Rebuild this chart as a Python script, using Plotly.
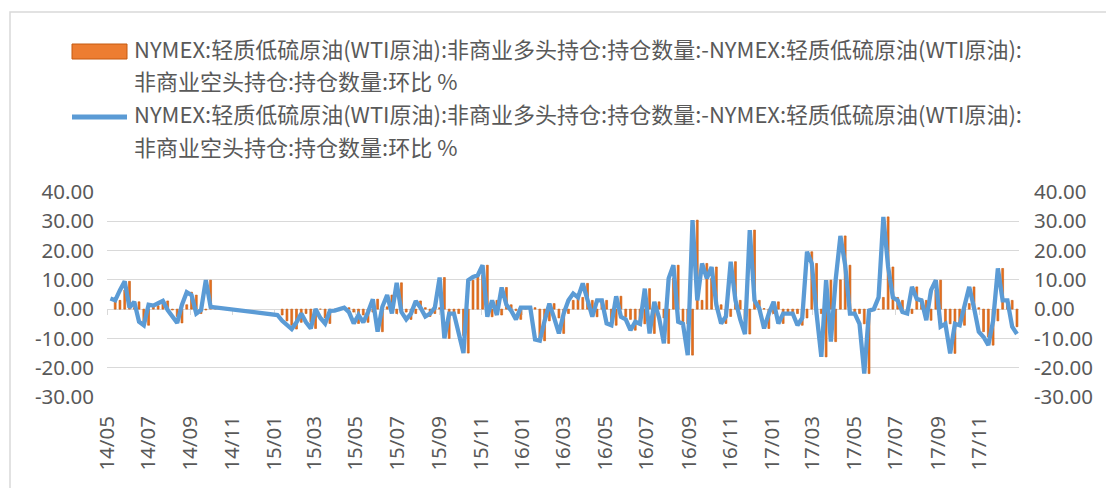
import pandas as pd
import plotly.graph_objects as go

# ---------------- data ----------------
series_name_line1 = "NYMEX:轻质低硫原油(WTI原油):非商业多头持仓:持仓数量:-NYMEX:轻质低硫原油(WTI原油):"
series_name_line2 = "非商业空头持仓:持仓数量:环比 %"

dates_2014 = pd.date_range("2014-05-06", periods=22, freq="7D")
dates_2015_2017 = pd.date_range("2015-01-06", periods=156, freq="7D")

values_2014 = [3.6, 3.0, 6.5, 9.5, 0.5, 2.5, -4.3, -5.5, 1.5, 1.2, 2.0,
               2.8, -0.3, -2.5, -4.7, 1.5, 5.8, 4.8, -1.5, -0.3, 9.9, 0.8]

values_2015_2017 = [
    -2.0, -4.0, -5.5, -6.8, -4.5, -1.5, -4.5, -6.6, 0.0, -3.0, -4.9, -0.6,
    -0.5, 0.2, 0.5, -1.0, -4.9, -2.0, -4.5, -1.0, 3.4, -7.7, 0.8, 4.8,
    -1.5, 9.0, -1.0, -3.5, -1.5, 2.8, 0.5, -2.5, -1.5, 0.5, 10.8, -10.0,
    -1.5, -1.5, -9.0, -15.0, 9.9, 11.0, 11.6, 15.0, -2.6, 3.0, -2.0, 7.4,
    1.5, -0.5, -3.5, 0.5, 0.5, 0.5, -10.4, -10.8, -4.0, 1.9, -3.0, -8.3,
    -1.5, 3.0, 5.3, 4.0, 8.8, 3.0, -2.6, 3.0, 3.0, -4.9, -5.5, 4.4,
    -2.6, -3.5, -7.2, -4.3, -5.0, 7.0, -8.3, 2.5, -3.0, -11.7, 10.5, 15.0,
    -4.3, -5.0, -15.7, 30.4, 3.0, 15.6, 10.5, 14.4, 1.5, -4.9, -2.5, 16.2,
    3.0, -3.5, -8.5, 27.0, 3.0, 0.2, -6.6, -1.5, 2.5, -4.9, -1.5, -1.5,
    -1.5, -5.5, -3.0, 19.6, 15.6, -1.5, -16.3, 9.9, -11.1, 10.0, 25.0, 15.0,
    -1.5, -1.5, -5.0, -22.0, -0.5, 0.0, 4.0, 31.5, 14.4, 4.0, 3.0, -1.0,
    -1.5, 7.6, 3.5, 3.0, -3.8, 6.5, 9.9, -6.0, -5.0, -15.1, -5.0, -5.5,
    1.9, 7.6, 0.5, -7.7, -9.5, -12.3, -4.0, 13.9, 3.0, 3.0, -6.0, -8.5,
]

dates = list(dates_2014) + list(dates_2015_2017)
values = values_2014 + values_2015_2017

y_tickvals = [40, 30, 20, 10, 0, -10, -20, -30]
y_ticktext = ["40.00", "30.00", "20.00", "10.00", "0.00",
              "-10.00", "-20.00", "-30.00"]
x_range = ["2014-05-01", "2017-12-29"]

# ---------------- styling ----------------
ORANGE = "#E8711F"
ORANGE_EDGE = "#C55A11"
BLUE = "#5B9BD5"
GRID = "#D9D9D9"
TEXT = "#595959"
DAY_MS = 24 * 3600 * 1000

W, H = 1106, 488
PL, PR, PT, PB = 107, 1019, 192, 397  # plot area in pixels


def px_x(px):
    return (px - PL) / (PR - PL)


def px_y(py):
    return (PB - py) / (PB - PT)


full_name = series_name_line1 + series_name_line2

fig = go.Figure()
fig.add_trace(go.Bar(
    x=dates, y=values, name=full_name,
    marker=dict(color=ORANGE, line=dict(color=ORANGE_EDGE, width=0.6)),
    width=2.8 * DAY_MS, offset=5.6 * DAY_MS,
    xaxis="x", yaxis="y", showlegend=False,
))
fig.add_trace(go.Scatter(
    x=dates, y=values, name=full_name, mode="lines",
    line=dict(color=BLUE, width=4.3), xaxis="x2", yaxis="y2",
    showlegend=False,
))

tickfont = dict(family="Noto Sans", size=20.5, color=TEXT)

fig.update_layout(
    width=W, height=H,
    margin=dict(l=PL, r=W - PR, t=PT, b=H - PB, autoexpand=False),
    paper_bgcolor="white", plot_bgcolor="white",
    showlegend=False,
    xaxis=dict(type="date", range=x_range, dtick="M2", tick0="2014-05-01",
               tickformat="%y/%m", tickangle=-90, showgrid=False,
               zeroline=False, showline=False, ticks="",
               ticklabelstandoff=14, tickfont=tickfont),
    xaxis2=dict(type="date", range=x_range, overlaying="x", anchor="free",
                position=30 / 70, dtick="M2", tick0="2014-05-01",
                showticklabels=False, showgrid=False, zeroline=False,
                showline=True, linecolor=GRID, linewidth=1.2,
                ticks="outside", ticklen=5, tickcolor=GRID, tickwidth=1.2,
                layer="below traces"),
    yaxis=dict(range=[-30, 40], tickvals=y_tickvals, ticktext=y_ticktext,
               showgrid=True, gridcolor=GRID, gridwidth=1.2, zeroline=False,
               showline=False, ticks="", ticklabelstandoff=12,
               tickfont=tickfont),
    yaxis2=dict(range=[-30, 40], tickvals=y_tickvals, ticktext=y_ticktext,
                overlaying="y", side="right", showgrid=False, zeroline=False,
                showline=False, ticks="", ticklabelstandoff=14,
                tickfont=tickfont),
)

# outer chart frame
fig.add_shape(type="rect", xref="paper", yref="paper",
              x0=px_x(10), x1=px_x(1112), y0=px_y(495), y1=px_y(12),
              line=dict(color=GRID, width=1.5), fillcolor="rgba(0,0,0,0)",
              layer="below")

# custom legend (symbols + text)
fig.add_shape(type="rect", xref="paper", yref="paper",
              x0=px_x(72), x1=px_x(127), y0=px_y(59), y1=px_y(44),
              line=dict(color=ORANGE_EDGE, width=1), fillcolor="#ED7D31")
fig.add_shape(type="line", xref="paper", yref="paper",
              x0=px_x(72), x1=px_x(127), y0=px_y(117), y1=px_y(117),
              line=dict(color=BLUE, width=5))

legend_font = dict(family="Noto Sans CJK SC", size=22, color=TEXT)
for text, cy in [(series_name_line1, 48), (series_name_line2, 80.5),
                 (series_name_line1, 113), (series_name_line2, 145.5)]:
    fig.add_annotation(xref="paper", yref="paper", x=px_x(133), y=px_y(cy),
                       xanchor="left", yanchor="middle", text=text,
                       showarrow=False, font=legend_font, align="left",
                       borderpad=0)

fig.write_html(
    "out.html",
    config={"displayModeBar": False},
    post_script="document.body.style.margin='0';"
                "document.body.style.overflow='hidden';",
)
